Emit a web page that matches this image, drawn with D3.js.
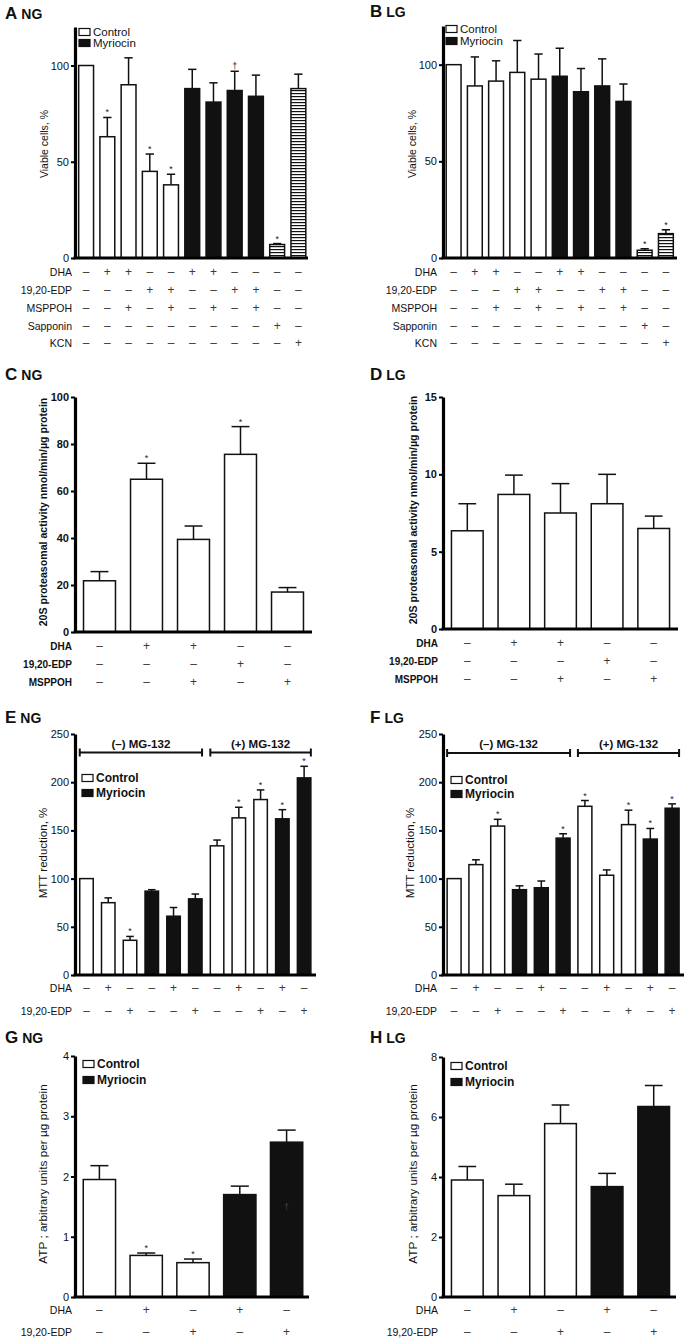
<!DOCTYPE html>
<html>
<head>
<meta charset="utf-8">
<script src="https://cdn.jsdelivr.net/npm/d3@7"></script>
<style>
  body { margin: 0; background: #fff; }
  text { font-family: "Liberation Sans", Arial, sans-serif; }
</style>
</head>
<body>
<script>
// ---- data ----
// fills: w = control (white), k = myriocin (black), h = hatched
var aValues = [100, 63, 90, 45, 38, 88, 81, 87, 84, 7, 88];
var aErrors = [0, 10, 14, 9, 5.5, 10, 10, 10, 11, 0.5, 7.5];
var aFills  = ["w", "w", "w", "w", "w", "k", "k", "k", "k", "h", "h"];
var aMarks  = ["", "*", "", "*", "*", "", "", "†", "", "*", ""];

var bValues = [100, 89, 91.5, 96, 92.5, 94, 86, 89, 81, 4, 12.6];
var bErrors = [0, 15, 10.5, 16.5, 13, 14.5, 12, 14, 9, 0.8, 2];
var bFills  = ["w", "w", "w", "w", "w", "k", "k", "k", "k", "h", "h"];
var bMarks  = ["", "", "", "", "", "", "", "", "", "*", "*"];

var abRowNames = ["DHA", "19,20-EDP", "MSPPOH", "Sapponin", "KCN"];
var abRows = ["-++--++----", "---++--++--", "--+-+-+-+--", "---------+-", "----------+"];

var cValues = [21.8, 65, 39.4, 75.6, 17];
var cErrors = [3.9, 6.8, 5.7, 11.8, 1.9];
var cMarks  = ["", "*", "", "*", ""];

var dValues = [6.35, 8.7, 7.5, 8.1, 6.5];
var dErrors = [1.75, 1.25, 1.9, 1.9, 0.8];
var dMarks  = ["", "", "", "", ""];

var cdFills = ["w", "w", "w", "w", "w"];
var cdRowNames = ["DHA", "19,20-EDP", "MSPPOH"];
var cdRows = ["-++--", "---+-", "--+-+"];

var eValues = [100, 75, 36, 87, 61, 79, 134, 163, 182, 162, 204.5];
var eErrors = [0, 5, 4, 1.5, 9, 5, 6, 11, 10, 9.5, 12];
var eMarks  = ["", "", "*", "", "", "", "", "*", "*", "*", "*"];

var fValues = [100, 114.5, 154.5, 88.5, 90.5, 142, 175, 103.5, 156, 141, 173];
var fErrors = [0, 5, 7, 4, 7, 4.5, 6, 5.5, 15, 11, 4.5];
var fMarks  = ["", "", "*", "", "", "*", "*", "", "*", "*", "*"];

var efFills = ["w", "w", "w", "k", "k", "k", "w", "w", "w", "k", "k"];
var efRowNames = ["DHA", "19,20-EDP"];
var efRows = ["-+--+--+-+-", "--+--+--+-+"];
var efGroups = ["(\u2013) MG-132", "(+) MG-132"];

var gValues = [1.95, 0.69, 0.57, 1.70, 2.57];
var gErrors = [0.23, 0.04, 0.06, 0.14, 0.2];
var gMarks  = ["", "*", "*", "", ""];

var hValues = [3.9, 3.38, 5.78, 3.68, 6.35];
var hErrors = [0.45, 0.38, 0.62, 0.44, 0.7];
var hMarks  = ["", "", "", "", ""];

var ghFills = ["w", "w", "w", "k", "k"];
var ghRowNames = ["DHA", "19,20-EDP"];
var ghRows = ["-+-+-", "--+-+"];

var legendNames = ["Control", "Myriocin"];

// ---- drawing ----
var svg = d3.select("body").append("svg")
  .attr("width", 685)
  .attr("height", 1339);

var defs = svg.append("defs");
var pat = defs.append("pattern")
  .attr("id", "hstripe")
  .attr("patternUnits", "userSpaceOnUse")
  .attr("width", 6)
  .attr("height", 3);
pat.append("rect").attr("width", 6).attr("height", 3).attr("fill", "#fff");
pat.append("rect").attr("width", 6).attr("height", 1.2).attr("fill", "#111");

function fillOf(f) {
  if (f === "k") return "#111";
  if (f === "h") return "url(#hstripe)";
  return "#fff";
}

function panel(p) {
  var g = svg.append("g");

  var x = d3.scaleBand()
    .domain(d3.range(p.values.length))
    .range(p.xRange)
    .paddingInner(p.pad)
    .paddingOuter(p.pad / 2);

  var y = d3.scaleLinear()
    .domain([0, p.yMax])
    .range(p.yRange);

  // title
  var t = g.append("text")
    .attr("x", p.titleX)
    .attr("y", p.titleY)
    .attr("font-weight", "bold")
    .attr("fill", "#111");
  t.append("tspan").attr("font-size", 17).text(p.letter);
  t.append("tspan").attr("font-size", 14).attr("dx", 4).text(p.sub);

  // bars
  g.selectAll("rect.bar")
    .data(p.values)
    .enter().append("rect")
    .attr("class", "bar")
    .attr("x", function (d, i) { return x(i); })
    .attr("width", x.bandwidth())
    .attr("y", function (d) { return y(d); })
    .attr("height", function (d) { return y(0) - y(d); })
    .attr("fill", function (d, i) { return fillOf(p.fills[i]); })
    .attr("stroke", "#111")
    .attr("stroke-width", 1.5);

  // error bars (upper only)
  p.values.forEach(function (v, i) {
    if (!p.errors[i]) return;
    var cx = x(i) + x.bandwidth() / 2;
    var cap = x.bandwidth() * 0.28;
    g.append("line")
      .attr("x1", cx).attr("x2", cx)
      .attr("y1", y(v)).attr("y2", y(v + p.errors[i]))
      .attr("stroke", "#111").attr("stroke-width", 1.5);
    g.append("line")
      .attr("x1", cx - cap).attr("x2", cx + cap)
      .attr("y1", y(v + p.errors[i])).attr("y2", y(v + p.errors[i]))
      .attr("stroke", "#111").attr("stroke-width", 1.5);
  });

  // significance marks
  g.selectAll("text.mark")
    .data(p.marks)
    .enter().append("text")
    .attr("class", "mark")
    .attr("x", function (d, i) { return x(i) + x.bandwidth() / 2; })
    .attr("y", function (d, i) { return y(p.values[i] + p.errors[i]) - 2; })
    .attr("text-anchor", "middle")
    .attr("font-size", 9)
    .attr("fill", "#222")
    .text(function (d) { return d; });

  // y axis
  var ax = g.append("g")
    .attr("transform", "translate(" + p.axisX + ",0)")
    .call(d3.axisLeft(y).tickValues(p.ticks).tickFormat(d3.format("d"))
      .tickSize(4).tickSizeOuter(0).tickPadding(2));
  ax.select(".domain").attr("stroke-width", 3.2).attr("stroke", "#000");
  ax.selectAll(".tick line").attr("stroke-width", 2);
  ax.selectAll(".tick text")
    .attr("font-size", p.tickSize)
    .attr("font-weight", p.boldTicks ? "bold" : "normal")
    .attr("font-family", "'Liberation Sans', Arial, sans-serif")
    .attr("fill", "#111");

  // x axis line
  g.append("line")
    .attr("x1", p.axisX - 1.5).attr("x2", p.xEnd)
    .attr("y1", y(0)).attr("y2", y(0))
    .attr("stroke", "#000").attr("stroke-width", 3);

  // y label
  g.append("text")
    .attr("transform", "translate(" + p.labelX + "," + p.labelY + ") rotate(-90)")
    .attr("text-anchor", "middle")
    .attr("dominant-baseline", "central")
    .attr("font-size", p.labelSize)
    .attr("font-weight", p.boldLabel ? "bold" : "normal")
    .attr("fill", "#111")
    .text(p.yLabel);

  // treatment rows
  p.rowNames.forEach(function (name, r) {
    g.append("text")
      .attr("x", p.rowLabelX)
      .attr("y", p.rowY[r])
      .attr("text-anchor", "end")
      .attr("dominant-baseline", "central")
      .attr("font-size", p.rowSize)
      .attr("font-weight", p.boldRows ? "bold" : "normal")
      .attr("fill", "#111")
      .text(name);
    g.selectAll(null)
      .data(p.rows[r].split(""))
      .enter().append("text")
      .attr("x", function (d, i) { return x(i) + x.bandwidth() / 2; })
      .attr("y", p.rowY[r])
      .attr("text-anchor", "middle")
      .attr("dominant-baseline", "central")
      .attr("font-size", 12)
      .attr("fill", "#3a3a3a")
      .text(function (d) { return d === "+" ? "+" : "\u2013"; });
  });

  // legend
  if (p.legend) {
    legendNames.forEach(function (name, i) {
      var ly = p.legend.y[i];
      g.append("rect")
        .attr("x", p.legend.x).attr("y", ly - 3.5)
        .attr("width", 11).attr("height", 7)
        .attr("fill", i === 0 ? "#fff" : "#111")
        .attr("stroke", "#111").attr("stroke-width", 1.2);
      g.append("text")
        .attr("x", p.legend.x + 14).attr("y", ly)
        .attr("dominant-baseline", "central")
        .attr("font-size", p.legend.size)
        .attr("font-weight", p.legend.bold ? "bold" : "normal")
        .attr("fill", "#111")
        .text(name);
    });
  }

  // MG-132 brackets
  if (p.groups) {
    var spans = [[0, 5], [6, 10]];
    spans.forEach(function (s, k) {
      var x1 = x(s[0]), x2 = x(s[1]) + x.bandwidth();
      var by = p.bracketY;
      g.append("line").attr("x1", x1).attr("x2", x2).attr("y1", by).attr("y2", by)
        .attr("stroke", "#111").attr("stroke-width", 2);
      [x1, x2].forEach(function (xx) {
        g.append("line").attr("x1", xx).attr("x2", xx).attr("y1", by - 4).attr("y2", by + 4)
          .attr("stroke", "#111").attr("stroke-width", 2);
      });
      g.append("text")
        .attr("x", (x1 + x2) / 2).attr("y", by - 9)
        .attr("text-anchor", "middle")
        .attr("dominant-baseline", "central")
        .attr("font-size", 11.5)
        .attr("font-weight", "bold")
        .attr("fill", "#111")
        .text(p.groups[k]);
    });
  }

  return { x: x, y: y, g: g };
}

var proteasome = "20S proteasomal activity nmol/min/\u00b5g protein";
var atp = "ATP ; arbitrary units per \u00b5g protein";

// A
panel({
  letter: "A", sub: "NG", titleX: 5, titleY: 19,
  values: aValues, errors: aErrors, fills: aFills, marks: aMarks,
  xRange: [75.5, 309], pad: 0.3, xEnd: 308, axisX: 75,
  yMax: 120, yRange: [258, 27], ticks: [0, 50, 100], tickSize: 11,
  yLabel: "Viable cells, %", labelX: 44, labelY: 144, labelSize: 10.5,
  rowNames: abRowNames, rows: abRows, rowY: [272, 290, 308, 326, 343], rowLabelX: 72, rowSize: 10.5,
  legend: { x: 79, y: [32, 43], size: 11.5 }
});

// B
panel({
  letter: "B", sub: "LG", titleX: 370, titleY: 17,
  values: bValues, errors: bErrors, fills: bFills, marks: bMarks,
  xRange: [443, 676.5], pad: 0.3, xEnd: 677, axisX: 443,
  yMax: 120, yRange: [258, 26], ticks: [0, 50, 100], tickSize: 11,
  yLabel: "Viable cells, %", labelX: 412, labelY: 144, labelSize: 10.5,
  rowNames: abRowNames, rows: abRows, rowY: [272, 290, 308, 326, 343], rowLabelX: 437, rowSize: 10.5,
  legend: { x: 446, y: [29, 41], size: 11.5 }
});

// C
panel({
  letter: "C", sub: "NG", titleX: 5, titleY: 380,
  values: cValues, errors: cErrors, fills: cdFills, marks: cMarks,
  xRange: [76, 311], pad: 0.32, xEnd: 312, axisX: 75,
  yMax: 100, yRange: [632, 397], ticks: [0, 20, 40, 60, 80, 100], tickSize: 11, boldTicks: true,
  yLabel: proteasome, labelX: 43, labelY: 512, labelSize: 10.6, boldLabel: true,
  rowNames: cdRowNames, rows: cdRows, rowY: [646, 664, 682], rowLabelX: 72, rowSize: 10, boldRows: true
});

// D
panel({
  letter: "D", sub: "LG", titleX: 370, titleY: 380,
  values: dValues, errors: dErrors, fills: cdFills, marks: dMarks,
  xRange: [444, 677], pad: 0.32, xEnd: 678, axisX: 443,
  yMax: 15, yRange: [629, 397], ticks: [0, 5, 10, 15], tickSize: 11, boldTicks: true,
  yLabel: proteasome, labelX: 413, labelY: 510, labelSize: 10.6, boldLabel: true,
  rowNames: cdRowNames, rows: cdRows, rowY: [643, 661, 679], rowLabelX: 438, rowSize: 10, boldRows: true
});

// E
panel({
  letter: "E", sub: "NG", titleX: 5, titleY: 723,
  values: eValues, errors: eErrors, fills: efFills, marks: eMarks,
  xRange: [75.6, 315], pad: 0.38, xEnd: 316, axisX: 75,
  yMax: 250, yRange: [975, 734], ticks: [0, 50, 100, 150, 200, 250], tickSize: 11,
  yLabel: "MTT reduction, %", labelX: 43, labelY: 853, labelSize: 11.5,
  rowNames: efRowNames, rows: efRows, rowY: [988, 1011], rowLabelX: 72, rowSize: 10.5,
  legend: { x: 82, y: [778, 793], size: 12, bold: true },
  groups: efGroups, bracketY: 752.5
});

// F
panel({
  letter: "F", sub: "LG", titleX: 370, titleY: 723,
  values: fValues, errors: fErrors, fills: efFills, marks: fMarks,
  xRange: [443.2, 683], pad: 0.36, xEnd: 684, axisX: 443,
  yMax: 250, yRange: [975, 734], ticks: [0, 50, 100, 150, 200, 250], tickSize: 11,
  yLabel: "MTT reduction, %", labelX: 410, labelY: 853, labelSize: 11.5,
  rowNames: efRowNames, rows: efRows, rowY: [988, 1011], rowLabelX: 437, rowSize: 10.5,
  legend: { x: 451, y: [780, 794], size: 12, bold: true },
  groups: efGroups, bracketY: 753
});

// G
var gp = panel({
  letter: "G", sub: "NG", titleX: 5, titleY: 1043,
  values: gValues, errors: gErrors, fills: ghFills, marks: gMarks,
  xRange: [76, 310], pad: 0.31, xEnd: 309, axisX: 75,
  yMax: 4, yRange: [1297, 1056], ticks: [0, 1, 2, 3, 4], tickSize: 11,
  yLabel: atp, labelX: 43, labelY: 1174, labelSize: 11.8,
  rowNames: ghRowNames, rows: ghRows, rowY: [1310, 1332], rowLabelX: 72, rowSize: 10.5,
  legend: { x: 83, y: [1064, 1080], size: 12, bold: true }
});
// faint dagger printed inside the last black bar of G
gp.g.append("text")
  .attr("x", gp.x(4) + gp.x.bandwidth() / 2)
  .attr("y", gp.y(1.45))
  .attr("text-anchor", "middle")
  .attr("font-size", 9)
  .attr("fill", "#444")
  .text("†");

// H
panel({
  letter: "H", sub: "LG", titleX: 370, titleY: 1043,
  values: hValues, errors: hErrors, fills: ghFills, marks: hMarks,
  xRange: [444, 677], pad: 0.32, xEnd: 676, axisX: 443,
  yMax: 8, yRange: [1297, 1057], ticks: [0, 2, 4, 6, 8], tickSize: 11,
  yLabel: atp, labelX: 413, labelY: 1174, labelSize: 11.8,
  rowNames: ghRowNames, rows: ghRows, rowY: [1310, 1332], rowLabelX: 438, rowSize: 10.5,
  legend: { x: 451, y: [1066, 1082], size: 12, bold: true }
});
</script>
</body>
</html>
